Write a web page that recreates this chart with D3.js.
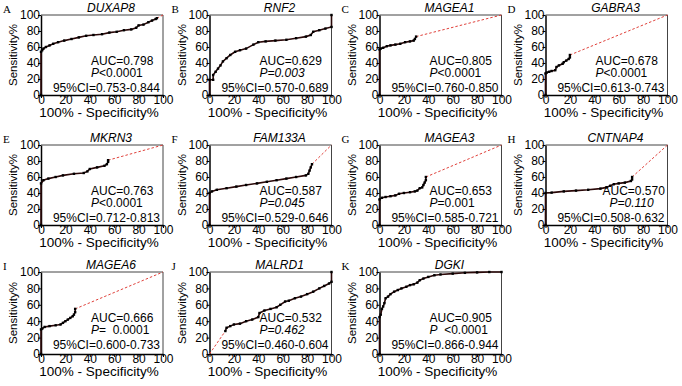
<!DOCTYPE html>
<html lang="en">
<head>
<meta charset="UTF-8">
<title>ROC curves</title>
<script src="https://d3js.org/d3.v7.min.js"></script>
<style>
  body { margin: 0; background: #fff; }
  svg text { font-family: "Liberation Sans", Arial, sans-serif; }
</style>
</head>
<body>
<div class="main"></div>
<script>
  // panel labels and stats
  var letters = ["A", "B", "C", "D", "E", "F", "G", "H", "I", "J", "K"];
  var genes = ["DUXAP8", "RNF2", "MAGEA1", "GABRA3", "MKRN3", "FAM133A", "MAGEA3", "CNTNAP4", "MAGEA6", "MALRD1", "DGKI"];
  var aucLabels = ["AUC=0.798", "AUC=0.629", "AUC=0.805", "AUC=0.678", "AUC=0.763", "AUC=0.587", "AUC=0.653", "AUC=0.570", "AUC=0.666", "AUC=0.532", "AUC=0.905"];
  var pRest = ["<0.0001", "=0.003", "<0.0001", "<0.0001", "<0.0001", "=0.045", "=0.001", "=0.110", "=  0.0001", "=0.462", "  <0.0001"];
  var pItalicAll = [false, true, false, false, false, true, false, true, false, true, false];
  var ciLabels = ["95%CI=0.753-0.844", "95%CI=0.570-0.689", "95%CI=0.760-0.850", "95%CI=0.613-0.743", "95%CI=0.712-0.813", "95%CI=0.529-0.646", "95%CI=0.585-0.721", "95%CI=0.508-0.632", "95%CI=0.600-0.733", "95%CI=0.460-0.604", "95%CI=0.866-0.944"];
  var xTicks = [0, 20, 40, 60, 80, 100];
  var yTicks = [0, 20, 40, 60, 80, 100];

  // ROC points [100% - specificity, sensitivity]
  var duxap8 = [[0,0],[0,54],[1,56],[2,58],[4,60],[7,62],[10,64],[14,66],[19,68],[25,70],[31,72],[37,74],[43,75],[50,76],[56,78],[62,79],[68,81],[74,82],[78,84],[80,87],[84,88],[88,91],[91,93],[94,95],[95,96]];
  var rnf2 = [[0,0],[0,19],[3,19],[3,25],[5,29],[7,33],[9,37],[11,42],[14,46],[17,50],[21,54],[25,56],[30,58],[36,63],[40,66],[46,67],[54,68],[63,69],[71,71],[79,73],[83,75],[85,79],[90,81],[95,83],[100,85],[100,100]];
  var magea1 = [[0,0],[0,57],[1,58],[3,59],[6,61],[9,62],[13,63],[17,64],[21,66],[25,67],[28,68],[29,70],[30,73]];
  var gabra3 = [[0,0],[0,27],[1,28],[3,29],[5,30],[8,31],[9,35],[11,37],[14,39],[15,41],[17,43],[19,45],[20,47],[20,50]];
  var mkrn3 = [[0,0],[0,52],[2,56],[6,58],[12,60],[18,62],[27,64],[35,65],[38,67],[40,70],[46,72],[52,74],[54,76],[55,79],[55,81]];
  var fam133a = [[0,0],[0,40],[2,42],[6,44],[14,46],[22,48],[30,50],[39,52],[47,54],[55,56],[63,58],[71,60],[79,62],[81,64],[82,68],[83,72],[84,76]];
  var magea3 = [[0,0],[0,32],[2,34],[5,35],[9,36],[13,37],[16,39],[20,40],[25,41],[29,42],[31,43],[33,46],[35,47],[36,50],[37,53],[38,56],[38,60]];
  var cntnap4 = [[0,0],[0,40],[5,40.5],[15,42],[25,43],[35,44],[45,45.5],[50,47],[53,49],[56,51],[60,52],[65,53],[70,55],[71,57],[71,60]];
  var magea6 = [[0,0],[0,30],[1,31],[3,33],[7,34],[12,35],[16,36],[18,38],[20,40],[22,42],[24,44],[26,46],[27,48],[28,51],[28,55]];
  var malrd1 = [[13,28],[14,32],[17,34],[20,36],[25,37],[30,40],[35,42],[40,45],[41,50],[45,53],[50,55],[55,57],[58,60],[62,64],[65,65],[70,68],[75,70],[80,73],[85,76],[90,80],[94,83],[98,86],[100,88],[100,100]];
  var dgki = [[0,0],[0,45],[1,48],[2,55],[3,58],[4,62],[5,68],[7,70],[9,73],[12,76],[15,78],[18,80],[22,82],[25,84],[28,85],[31,87],[33,90],[36,92],[40,94],[45,96],[50,97],[60,98],[70,99],[80,99.5],[90,100],[100,100]];
  var curves = [duxap8, rnf2, magea1, gabra3, mkrn3, fam133a, magea3, cntnap4, magea6, malrd1, dgki];

  var width = 682, height = 386;
  var colLeft = [41, 209.5, 379.5, 545.5];
  var rowTop = [15, 145, 272];
  var boxW = 122;
  var boxH = [80, 80, 82];

  var svg = d3.select(".main")
          .append("svg")
          .attr("width", width)
          .attr("height", height)
          .style("display", "block");

  svg.append("rect").attr("width", width).attr("height", height).attr("fill", "#fff");

  function drawPanel(i) {
    var col = i % 4, row = Math.floor(i / 4);
    var h = boxH[row];
    var g = svg.append("g").attr("transform", `translate(${colLeft[col]},${rowTop[row]})`);

    var xScale = d3.scaleLinear().domain([0, 100]).range([0, boxW]);
    var yScale = d3.scaleLinear().domain([0, 100]).range([h, 0]);

    // top and right frame
    g.append("path")
            .attr("d", `M0,0H${boxW}V${h}`)
            .attr("fill", "none")
            .attr("stroke", "#444")
            .attr("stroke-width", 1);

    var xAxis = d3.axisBottom(xScale).tickValues(xTicks).tickSizeInner(3).tickSizeOuter(0).tickPadding(-2.5);
    var yAxis = d3.axisLeft(yScale).tickValues(yTicks).tickSizeInner(3).tickSizeOuter(0).tickPadding(-2);

    [[xAxis, `translate(0,${h})`], [yAxis, "translate(0,0)"]].forEach(function (a) {
      var ax = g.append("g").attr("transform", a[1]).call(a[0])
              .attr("font-size", 12)
              .attr("font-family", "Liberation Sans, Arial, sans-serif");
      ax.select(".domain").attr("stroke", "#000").attr("stroke-width", 1.5);
      ax.selectAll(".tick line").attr("stroke", "#000").attr("stroke-width", 1);
      ax.selectAll(".tick text").attr("fill", "#000");
    });

    var pts = curves[i];
    var first = pts[0], last = pts[pts.length - 1];

    // reference diagonal where the curve has no points
    var line = d3.line().x(d => xScale(d[0])).y(d => yScale(d[1]));
    [[[0, 0], first], [last, [100, 100]]].forEach(function (seg) {
      if (seg[0][0] == seg[1][0] && seg[0][1] == seg[1][1]) return;
      g.append("path")
              .attr("d", line(seg))
              .attr("fill", "none")
              .attr("stroke", "#e0403a")
              .attr("stroke-width", 1)
              .attr("stroke-dasharray", "2.5,2");
    });

    g.append("path")
            .attr("d", line(pts))
            .attr("fill", "none")
            .attr("stroke", "#2a0808")
            .attr("stroke-width", 1.6);

    g.selectAll("rect.pt")
            .data(pts)
            .join("rect")
            .attr("class", "pt")
            .attr("x", d => xScale(d[0]) - 1.2)
            .attr("y", d => yScale(d[1]) - 1.2)
            .attr("width", 2.4)
            .attr("height", 2.4)
            .attr("fill", "#000");

    // labels
    g.append("text")
            .attr("x", -38).attr("y", -2)
            .style("font-family", "Liberation Serif, Times New Roman, serif")
            .style("font-size", "11px")
            .text(letters[i]);

    g.append("text")
            .attr("x", boxW / 2 + 9).attr("y", -3)
            .attr("text-anchor", "middle")
            .style("font-size", "12px")
            .style("font-style", "italic")
            .text(genes[i]);

    g.append("text")
            .attr("x", boxW / 2 - 3).attr("y", h + 22)
            .attr("text-anchor", "middle")
            .style("font-size", "13.5px")
            .text("100% - Specificity%");

    g.append("text")
            .attr("transform", `translate(-24,${h / 2}) rotate(-90)`)
            .attr("text-anchor", "middle")
            .style("font-size", "11.5px")
            .text("Sensitivity%");

    // CNTNAP4 stats sit a little further right in the original
    var dx = i == 7 ? 7 : 0;
    g.append("text")
            .attr("x", 50 + dx).attr("y", 50)
            .style("font-size", "12px")
            .text(aucLabels[i]);

    var p = g.append("text")
            .attr("x", 50 + dx * 2).attr("y", 62)
            .attr("xml:space", "preserve")
            .style("white-space", "pre")
            .style("font-size", "12px");
    p.append("tspan").style("font-style", "italic").text("P");
    p.append("tspan").style("font-style", pItalicAll[i] ? "italic" : "normal").text(pRest[i]);

    g.append("text")
            .attr("x", boxW - 3).attr("y", 76.5)
            .attr("text-anchor", "end")
            .style("font-size", "12px")
            .text(ciLabels[i]);
  }

  for (var i = 0; i < genes.length; i++) {
    drawPanel(i);
  }
</script>
</body>
</html>
